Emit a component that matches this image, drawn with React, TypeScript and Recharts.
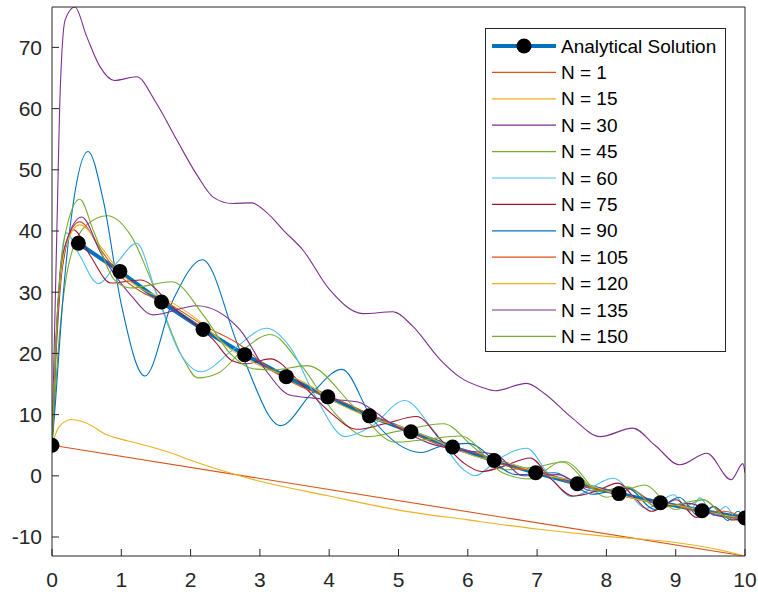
import { LineChart, Line, XAxis, YAxis } from 'recharts'

type Pt = [number, number]

const xTicks = [0, 1, 2, 3, 4, 5, 6, 7, 8, 9, 10]
const yTicks = [-10, 0, 10, 20, 30, 40, 50, 60, 70]

// analytical solution: boundary value at x = 0, then the sampled curve
const analyticalStart: Pt[] = [[0, 5]]
const analytical: Pt[] = [
  [0.38, 38], [0.98, 33.4], [1.58, 28.4], [2.18, 23.9], [2.78, 19.8],
  [3.38, 16.2], [3.98, 12.9], [4.58, 9.8], [5.18, 7.2], [5.78, 4.7], [6.38, 2.5],
  [6.98, 0.5], [7.58, -1.3], [8.18, -2.9], [8.78, -4.4], [9.38, -5.7], [10, -6.9],
]

const n1: Pt[] = [[0, 5], [10, -13.1]]

const n15: Pt[] = [
  [0, 5], [0.1, 8], [0.28, 9.2], [0.5, 8.6], [0.79, 6.7], [1.1, 5.7], [1.41, 4.8],
  [1.7, 3.8], [1.99, 2.6], [2.5, 0.7], [3, -0.9], [4, -3.3], [5, -5.6], [6, -7.2],
  [7, -8.7], [8, -9.9], [9, -10.9], [9.5, -11.8], [10, -13.1],
]

const n30: Pt[] = [
  [0, 5], [0.04, 25], [0.08, 45], [0.11, 60], [0.19, 74.5], [0.33, 76.6], [0.5, 71.8],
  [0.69, 66.9], [0.9, 64.6], [1.22, 65.2], [1.5, 61], [1.8, 54.9], [2.1, 49],
  [2.33, 45.5], [2.6, 44.5], [2.88, 44.6], [3.1, 43], [3.35, 40], [3.62, 36.9],
  [4, 30.5], [4.49, 26.5], [4.92, 26.8], [5.2, 24.5], [5.6, 19], [5.9, 16],
  [6.22, 14.4], [6.39, 13.9], [6.85, 15.1], [7.1, 13.5], [7.5, 9.5], [7.91, 6.4],
  [8.38, 7.8], [8.7, 5], [9.06, 1.8], [9.45, 3.7], [9.8, -0.65], [9.97, 2], [10, 0.5],
]

const n45: Pt[] = [
  [0, 5], [0.1, 22], [0.25, 35], [0.5, 41], [0.8, 42.5], [1.13, 39.4], [1.5, 30],
  [1.9, 19], [2.1, 16], [2.4, 16.8], [2.75, 20.5], [3.15, 23.1], [3.6, 18], [4.1, 10],
  [4.54, 6.4], [5.0, 7.3], [5.65, 8.5], [6.1, 4.5], [6.55, 1.0], [7.0, 1.5],
  [7.4, 2.3], [8.0, -3.5], [8.55, -1.5], [9.0, -5.5], [9.4, -3.9], [9.7, -6.5], [10, -7],
]

const n60: Pt[] = [
  [0, 5], [0.05, 20], [0.12, 34], [0.21, 39.7], [0.4, 36], [0.67, 31.4], [0.95, 35],
  [1.22, 38], [1.5, 30], [1.85, 20], [2.15, 17], [2.6, 20.5], [3.1, 24.1],
  [3.43, 21.1], [3.8, 13], [4.23, 6.4], [4.6, 8], [5.09, 12.3], [5.5, 7.5],
  [5.94, 1.0], [6.1, 0], [6.45, 2.8], [6.85, 4.5], [7.15, 0.5], [7.5, -3.4],
  [8.1, -0.4], [8.58, -5.3], [8.97, -3.1], [9.2, -5.8], [9.35, -3.6], [9.55, -6.5],
  [9.72, -5], [9.9, -7.3], [10, -7],
]

const n75: Pt[] = [
  [0, 5], [0.05, 18], [0.15, 34], [0.31, 40.2], [0.55, 36], [0.85, 31.5], [1.27, 32],
  [1.8, 27], [2.33, 22.2], [2.6, 18.8], [2.8, 18.3], [3.15, 19.1], [3.6, 15],
  [4.0, 10.5], [4.4, 7.6], [4.8, 8.5], [5.26, 9.7], [5.6, 6], [5.94, 2.1], [6.2, 0.7],
  [6.5, 1.5], [6.9, 2.9], [7.2, -0.5], [7.52, -3.3], [7.85, -2.5], [8.17, -1.2],
  [8.4, -3.5], [8.65, -5.8], [9.01, -3.9], [9.3, -6.8], [9.55, -5], [9.8, -7.2], [10, -7],
]

const n90: Pt[] = [
  [0, 5], [0.05, 12], [0.15, 28], [0.3, 44], [0.52, 53], [0.74, 45], [1.0, 28],
  [1.34, 16.3], [1.75, 28.8], [2.17, 35.3], [2.71, 20.6], [3.3, 8.2], [3.75, 13.5],
  [4.18, 17.4], [4.63, 9.2], [5.33, 3.8], [5.6, 4.8], [6.0, 5.3], [6.7, 0.2],
  [7.25, 0.5], [7.8, -3], [8.3, -2], [8.7, -5.5], [9.05, -3.5], [9.35, -6.8],
  [9.55, -5], [9.75, -7.3], [9.9, -5.8], [10, -7],
]

const n105: Pt[] = [
  [0, 5], [0.07, 25], [0.2, 38], [0.4, 41.5], [0.7, 37], [1.0, 32.5], [1.3, 30],
  [1.7, 28], [2.2, 24.5], [2.7, 21.5], [3.2, 17], [3.6, 14.5], [4.1, 12.5], [4.6, 10],
  [5.1, 7.5], [5.6, 5], [6.1, 3.8], [6.6, 1.5], [7.1, 0.5], [7.5, -1.2], [8.0, -2.5],
  [8.5, -4], [9.0, -4.8], [9.4, -6], [9.7, -5.8], [10, -7],
]

const n120: Pt[] = [
  [0, 5], [0.07, 24], [0.2, 37.5], [0.4, 41], [0.7, 37.5], [1.0, 33], [1.3, 30.5],
  [1.7, 28.5], [2.1, 25.5], [2.6, 20.5], [3.1, 17.5], [3.6, 15.5], [4.1, 12],
  [4.6, 9.5], [5.1, 7.8], [5.6, 5.5], [6.1, 3.2], [6.6, 2], [7.1, 0.2], [7.6, -1],
  [8.1, -2.8], [8.6, -4.2], [9.1, -5], [9.5, -6], [10, -7],
]

const n135: Pt[] = [
  [0, 5], [0.06, 22], [0.15, 36], [0.43, 42.3], [0.7, 36.5], [1.13, 29.6],
  [1.46, 26.3], [2.09, 27.8], [2.71, 23.9], [3.1, 17], [3.43, 13.2], [3.77, 12.7],
  [4.4, 12.1], [4.9, 8.5], [5.45, 5.3], [5.9, 4.2], [6.4, 3.5], [6.8, 0], [7.3, 0.2],
  [7.8, -2.5], [8.3, -2], [8.8, -5], [9.2, -4.5], [9.6, -6.5], [10, -7],
]

const n150: Pt[] = [
  [0, 5], [0.07, 25], [0.2, 40], [0.4, 45.2], [0.6, 40], [0.9, 32], [1.13, 30.7],
  [1.73, 31.7], [2.2, 26], [2.57, 20], [2.9, 17.5], [3.2, 17.3], [3.68, 18],
  [4.4, 10.8], [4.95, 5.5], [5.3, 5.8], [5.9, 6.5], [6.5, 0.5], [6.9, -0.5],
  [7.35, 2.3], [7.9, -2.5], [8.3, -1.8], [8.75, -5.2], [9.4, -3.9], [9.75, -6.8], [10, -7],
]

const series = [
  { name: 'N = 1', color: '#D95319', pts: n1, type: 'linear' },
  { name: 'N = 15', color: '#EDB120', pts: n15, type: 'monotone' },
  { name: 'N = 30', color: '#7E2F8E', pts: n30, type: 'monotone' },
  { name: 'N = 45', color: '#77AC30', pts: n45, type: 'monotone' },
  { name: 'N = 60', color: '#4DBEEE', pts: n60, type: 'monotone' },
  { name: 'N = 75', color: '#A2142F', pts: n75, type: 'monotone' },
  { name: 'N = 90', color: '#0072BD', pts: n90, type: 'monotone' },
  { name: 'N = 105', color: '#D95319', pts: n105, type: 'monotone' },
  { name: 'N = 120', color: '#EDB120', pts: n120, type: 'monotone' },
  { name: 'N = 135', color: '#7E2F8E', pts: n135, type: 'monotone' },
  { name: 'N = 150', color: '#77AC30', pts: n150, type: 'monotone' },
]

const toRows = (pts: Pt[]) => pts.map(([x, y]) => ({ x, y }))

const AXIS = '#262626'
const FONT = '"Liberation Sans", Arial, Helvetica, sans-serif'
const marker = { r: 7.5, fill: '#000', stroke: '#000', strokeWidth: 0 }

const LegendBox = () => {
  const rowH = 26.4
  return (
    <div
      style={{
        position: 'absolute',
        left: 485,
        top: 28,
        width: 241,
        height: 324,
        border: `1px solid ${AXIS}`,
        background: '#fff',
        boxSizing: 'border-box',
      }}
    >
      <svg width={239} height={322} style={{ display: 'block' }}>
        <line x1={6} x2={70} y1={17} y2={17} stroke="#0072BD" strokeWidth={4} />
        <circle cx={38} cy={17} r={7.5} fill="#000" />
        <text x={75} y={17} dy="0.35em" fontSize={19} fontFamily={FONT} fill="#000">
          Analytical Solution
        </text>
        {series.map((s, i) => {
          const y = 17 + rowH * (i + 1)
          return (
            <g key={s.name}>
              <line x1={6} x2={70} y1={y} y2={y} stroke={s.color} strokeWidth={1.2} />
              <text x={75} y={y} dy="0.35em" fontSize={19} fontFamily={FONT} fill="#000">
                {s.name}
              </text>
            </g>
          )
        })}
      </svg>
    </div>
  )
}

export default function App() {
  const tickStyle = { fontSize: 21, fontFamily: FONT, fill: AXIS }
  return (
    <div style={{ position: 'absolute', left: 0, top: 0, width: 758, height: 594, background: '#fff' }}>
      <LineChart width={758} height={594} margin={{ top: 6, right: 12, bottom: 0, left: 0 }}>
        <XAxis
          type="number"
          dataKey="x"
          domain={[0, 10]}
          ticks={xTicks}
          allowDataOverflow
          height={38}
          tickSize={-7}
          tickMargin={23}
          stroke={AXIS}
          tick={tickStyle}
        />
        <XAxis
          xAxisId="top"
          orientation="top"
          type="number"
          dataKey="x"
          domain={[0, 10]}
          ticks={xTicks}
          allowDataOverflow
          height={1}
          tickSize={-7}
          tick={false}
          stroke={AXIS}
        />
        <YAxis
          type="number"
          domain={[-13.1, 76.6]}
          ticks={yTicks}
          allowDataOverflow
          width={52}
          tickSize={-7}
          tickMargin={17}
          stroke={AXIS}
          tick={tickStyle}
        />
        <YAxis
          yAxisId="right"
          orientation="right"
          type="number"
          domain={[-13.1, 76.6]}
          ticks={yTicks}
          allowDataOverflow
          width={1}
          tickSize={-7}
          tick={false}
          stroke={AXIS}
        />
        {/* invisible series so the top and right box axes get drawn */}
        <Line
          xAxisId="top"
          yAxisId="right"
          data={toRows(analytical)}
          dataKey="y"
          stroke="none"
          dot={false}
          legendType="none"
          isAnimationActive={false}
        />
        <Line
          data={toRows(analyticalStart)}
          dataKey="y"
          stroke="#0072BD"
          dot={marker}
          isAnimationActive={false}
        />
        <Line
          data={toRows(analytical)}
          dataKey="y"
          type="linear"
          stroke="#0072BD"
          strokeWidth={4}
          dot={marker}
          isAnimationActive={false}
        />
        {series.map((s) => (
          <Line
            key={s.name}
            data={toRows(s.pts)}
            dataKey="y"
            type={s.type as 'linear' | 'monotone'}
            stroke={s.color}
            strokeWidth={1.1}
            dot={false}
            isAnimationActive={false}
          />
        ))}
      </LineChart>
      <LegendBox />
    </div>
  )
}
